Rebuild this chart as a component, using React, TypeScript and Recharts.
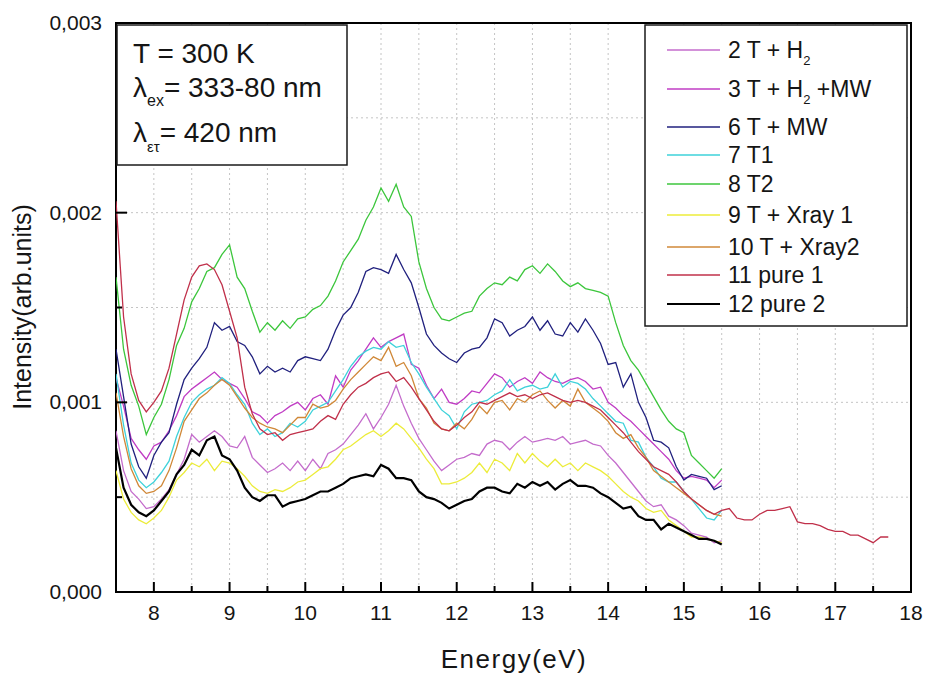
import React from 'react';
import { LineChart, Line, XAxis, YAxis, CartesianGrid, ReferenceArea } from 'recharts';

// Photon energy (eV)
const energy = [
  7.5, 7.6, 7.7, 7.8, 7.9, 8.0, 8.1, 8.2, 8.3, 8.4,
  8.5, 8.6, 8.7, 8.8, 8.9, 9.0, 9.1, 9.2, 9.3, 9.4,
  9.5, 9.6, 9.7, 9.8, 9.9, 10.0, 10.1, 10.2, 10.3, 10.4,
  10.5, 10.6, 10.7, 10.8, 10.9, 11.0, 11.1, 11.2, 11.3, 11.4,
  11.5, 11.6, 11.7, 11.8, 11.9, 12.0, 12.1, 12.2, 12.3, 12.4,
  12.5, 12.6, 12.7, 12.8, 12.9, 13.0, 13.1, 13.2, 13.3, 13.4,
  13.5, 13.6, 13.7, 13.8, 13.9, 14.0, 14.1, 14.2, 14.3, 14.4,
  14.5, 14.6, 14.7, 14.8, 14.9, 15.0, 15.1, 15.2, 15.3, 15.4,
  15.5, 15.6, 15.7, 15.8, 15.9, 16.0, 16.1, 16.2, 16.3, 16.4,
  16.5, 16.6, 16.7, 16.8, 16.9, 17.0, 17.1, 17.2, 17.3, 17.4,
  17.5, 17.6, 17.7,
];

// Intensities in units of 1e-4 arb.units
const t2H2 = [
  8.5, 6.4, 5.3, 4.9, 4.4, 4.5, 4.9, 5.4, 6.2, 7.0,
  8.3, 7.9, 8.2, 8.5, 8.2, 7.7, 7.6, 8.2, 7.1, 6.7,
  6.3, 6.5, 6.8, 6.4, 6.9, 6.4, 7.0, 6.5, 7.3, 7.5,
  7.8, 8.3, 8.8, 9.4, 8.6, 9.2, 9.9, 10.9, 9.8, 8.9,
  8.1, 7.5, 6.9, 6.4, 6.7, 7.0, 7.1, 7.3, 7.2, 7.8,
  8.0, 7.9, 7.5, 7.9, 8.2, 7.9, 8.0, 8.1, 8.0, 8.2,
  7.8, 7.9, 8.0, 7.8, 7.7, 7.2, 6.8, 6.3, 5.8, 5.3,
  4.8, 4.5, 4.6, 4.0, 3.8, 3.5, 3.1, 3.0, 2.9, 2.6,
  2.7,
];
const t3H2MW = [
  11.3, 9.8, 8.1, 7.5, 7.0, 7.7, 7.9, 8.5, 9.3, 10.3,
  10.7, 11.0, 11.3, 11.6, 11.2, 11.0, 10.8, 10.2, 9.5, 9.3,
  8.9, 9.3, 9.5, 9.8, 10.0, 9.6, 10.2, 10.4, 9.9, 11.4,
  10.8, 11.7, 12.2, 12.8, 13.4, 12.9, 13.2, 13.4, 13.6, 12.0,
  11.8, 10.9, 10.2, 10.7, 10.0, 9.9, 10.2, 10.6, 10.5, 11.0,
  11.5, 11.3, 10.8, 11.1, 11.3, 11.0, 11.6, 11.3, 11.1, 11.0,
  11.2, 11.3, 11.1, 10.7, 10.8, 10.0, 9.7, 9.3, 9.0, 8.6,
  8.2, 7.8, 7.4, 7.0, 6.4, 6.0, 6.1, 6.0, 5.9, 5.5,
  5.9,
];
const t6MW = [
  12.8, 10.3, 7.8, 6.6, 6.0, 7.2, 7.9, 8.4, 9.9, 11.2,
  11.8, 12.3, 12.9, 14.2, 13.8, 14.0, 13.2, 13.0, 12.4, 11.5,
  11.9, 11.6, 11.8, 11.6, 12.2, 12.4, 12.3, 12.2, 12.8, 13.8,
  14.6, 15.0, 15.8, 16.9, 17.1, 17.0, 16.8, 17.8, 17.0, 16.3,
  15.0, 13.6, 13.0, 12.6, 12.3, 12.1, 12.6, 12.8, 12.9, 13.4,
  14.4, 14.2, 13.5, 13.8, 14.0, 14.5, 13.8, 14.3, 13.6, 13.5,
  14.2, 13.7, 14.4, 13.8, 13.1, 12.0, 12.1, 10.8, 11.5, 10.0,
  9.2, 8.0, 7.9, 7.6, 6.6, 5.9, 6.2, 6.1, 6.0, 5.4,
  5.6,
];
const t7T1 = [
  11.5, 8.8, 6.8, 5.9, 5.5, 5.8, 6.3, 6.9, 8.2, 9.2,
  10.0, 10.4, 10.7, 10.9, 11.3, 11.0, 10.4, 9.9, 8.9, 8.3,
  8.6, 8.2, 8.4, 8.9, 8.7, 9.0, 9.6, 9.8, 10.0, 10.6,
  11.2, 11.9, 12.4, 12.7, 12.9, 12.8, 13.2, 12.9, 13.0, 12.1,
  11.5, 10.8, 10.2, 9.6, 9.3, 8.6, 9.5, 9.9, 10.0, 10.1,
  10.4, 10.6, 11.2, 10.6, 10.8, 10.9, 10.7, 10.8, 11.5, 10.8,
  11.1, 11.0, 10.7, 10.2, 9.8, 9.4, 9.0, 8.9, 8.0, 7.9,
  7.1, 6.6, 6.0, 5.8, 5.8, 5.3, 4.9, 4.4, 3.9, 3.8,
  4.3,
];
const t8T2 = [
  16.6, 12.8, 10.9, 9.8, 8.3, 9.2, 9.9, 11.2, 13.0, 13.9,
  15.3, 16.0, 16.9, 17.1, 17.8, 18.3, 16.6, 16.0, 14.8, 13.7,
  14.2, 13.8, 14.3, 13.9, 14.4, 14.5, 14.9, 15.1, 15.6, 16.4,
  17.4, 18.0, 18.6, 19.6, 20.3, 21.3, 20.6, 21.5, 20.3, 19.8,
  17.4, 16.0, 15.0, 14.4, 14.3, 14.5, 14.7, 14.8, 15.6, 16.0,
  16.3, 16.2, 16.6, 16.4, 17.0, 17.2, 16.8, 17.3, 16.9, 16.4,
  16.1, 16.3, 16.0, 15.9, 15.8, 15.6, 14.2, 13.0, 12.2, 11.7,
  11.0, 10.3, 9.6, 9.0, 8.6, 8.4, 7.2, 6.8, 6.4, 6.0,
  6.5,
];
const t9Xray1 = [
  6.4, 4.9, 4.2, 3.8, 3.6, 3.9, 4.3, 5.0, 5.9, 6.3,
  6.8, 6.6, 7.0, 6.4, 6.9, 6.8, 6.5, 6.1, 5.6, 5.3,
  5.2, 5.4, 5.3, 5.5, 5.8, 5.9, 6.2, 6.5, 6.6, 7.0,
  7.5, 7.7, 8.0, 8.3, 8.5, 8.2, 8.5, 8.9, 8.6, 8.1,
  7.6, 7.0, 6.5, 5.7, 5.7, 5.8, 6.0, 6.3, 6.8, 6.3,
  7.0, 6.8, 6.4, 7.3, 6.8, 7.3, 6.9, 6.6, 7.0, 6.6,
  6.8, 6.4, 6.8, 6.6, 6.4, 6.1, 5.7, 5.3, 5.0, 4.8,
  4.4, 4.2, 4.3, 3.8, 3.5, 3.2, 2.9, 2.9, 2.8, 2.7,
  2.6,
];
const t10Xray2 = [
  10.5, 8.2, 6.5, 5.6, 5.2, 5.3, 5.6, 6.4, 7.6, 9.0,
  9.6, 10.2, 10.5, 10.9, 11.2, 10.9, 10.3, 9.7, 9.2, 8.9,
  8.7, 8.6, 8.4, 8.8, 9.2, 9.2, 9.9, 9.7, 9.8, 10.1,
  10.7, 11.2, 11.6, 12.0, 12.4, 12.2, 12.9, 11.9, 12.1, 11.4,
  10.2, 9.7, 8.9, 8.6, 8.5, 8.9, 8.6, 9.1, 9.8, 9.4,
  10.0, 10.1, 9.6, 10.2, 10.0, 10.4, 10.6, 10.1, 9.7, 10.1,
  9.8, 10.7, 10.0, 9.7, 9.4, 9.0, 8.4, 8.1, 8.3, 7.6,
  7.1, 6.4, 6.1, 5.8, 5.5, 5.2, 4.9, 4.6, 4.3, 4.1,
  4.0,
];
const pure1 = [
  20.6, 14.5, 11.5, 10.1, 9.5, 10.0, 10.6, 11.8, 13.6, 15.4,
  16.6, 17.2, 17.3, 17.0, 16.2, 14.8, 13.4, 10.8, 9.4, 8.6,
  8.3, 8.4, 8.0, 8.3, 8.4, 8.5, 8.6, 9.0, 9.3, 9.1,
  9.9, 10.4, 10.8, 11.0, 11.3, 11.5, 11.6, 11.1, 11.3, 10.8,
  10.2, 9.6, 9.0, 8.6, 8.5, 8.8, 9.2, 9.5, 10.0, 9.9,
  10.1, 10.3, 10.5, 10.3, 10.4, 10.2, 10.4, 10.5, 10.3, 10.1,
  10.0, 10.1, 10.0, 9.8, 9.6, 9.2, 8.8, 8.4, 7.9, 7.4,
  7.0, 6.6, 6.4, 6.2, 5.8, 5.3, 4.9, 4.6, 4.3, 4.1,
  4.3, 4.4, 3.9, 3.8, 3.8, 4.1, 4.3, 4.3, 4.4, 4.5,
  3.7, 3.6, 3.6, 3.5, 3.3, 3.2, 3.2, 3.0, 3.0, 2.8,
  2.6, 2.9, 2.9,
];
const pure2 = [
  7.6, 5.5, 4.6, 4.2, 4.0, 4.3, 4.8, 5.3, 6.2, 6.7,
  7.5, 7.2, 8.0, 8.2, 7.2, 7.0, 6.4, 5.5, 5.0, 4.8,
  5.1, 5.1, 4.5, 4.7, 4.8, 4.9, 5.1, 5.3, 5.3, 5.5,
  5.7, 6.0, 6.1, 6.2, 6.1, 6.7, 6.5, 6.0, 6.0, 5.9,
  5.3, 5.0, 4.9, 4.7, 4.4, 4.6, 4.8, 4.9, 5.3, 5.5,
  5.5, 5.3, 5.2, 5.7, 5.5, 5.8, 5.6, 5.8, 5.4, 5.7,
  5.9, 5.6, 5.6, 5.5, 5.2, 5.0, 4.7, 4.4, 4.5, 4.0,
  3.8, 3.8, 3.3, 3.6, 3.4, 3.2, 3.0, 2.8, 2.8, 2.7,
  2.5,
];

const xTicks = [7.5, 8, 8.5, 9, 9.5, 10, 10.5, 11, 11.5, 12, 12.5, 13, 13.5, 14, 14.5, 15, 15.5, 16, 16.5, 17, 17.5, 18];
const yTicks = [0, 0.0005, 0.001, 0.0015, 0.002, 0.0025, 0.003];
const yMajor = [0, 0.001, 0.002, 0.003];

const series = [
  { key: 's2', name: '2 T + H2', color: '#c46ccc', values: t2H2, w: 1.3 },
  { key: 's3', name: '3 T + H2 +MW', color: '#c03cc4', values: t3H2MW, w: 1.3 },
  { key: 's6', name: '6 T + MW', color: '#20207e', values: t6MW, w: 1.3 },
  { key: 's7', name: '7 T1', color: '#3ed2da', values: t7T1, w: 1.3 },
  { key: 's8', name: '8 T2', color: '#3cc63c', values: t8T2, w: 1.3 },
  { key: 's9', name: '9 T + Xray 1', color: '#ecec3a', values: t9Xray1, w: 1.3 },
  { key: 's10', name: '10 T + Xray2', color: '#d08838', values: t10Xray2, w: 1.3 },
  { key: 's11', name: '11 pure 1', color: '#c0304a', values: pure1, w: 1.3 },
  { key: 's12', name: '12 pure 2', color: '#000000', values: pure2, w: 2.2 },
];

const rows = energy.map((e, i) => {
  const r: any = { E: e };
  series.forEach((s) => {
    r[s.key] = i < s.values.length ? s.values[i] / 10000 : null;
  });
  return r;
});

const FONT = '"Liberation Sans", Arial, Helvetica, sans-serif';
const INK = '#151515';

const XTick = (p: any) => {
  const v = p.payload.value;
  const major = Math.abs(v - Math.round(v)) < 1e-9;
  return (
    <g>
      <line x1={p.x} x2={p.x} y1={p.y} y2={p.y - (major ? 10 : 6)} stroke="#000" strokeWidth={2} />
      {major && (
        <text x={p.x} y={p.y + 28} textAnchor="middle" fontSize={21} fontFamily={FONT} fill={INK}>
          {v}
        </text>
      )}
    </g>
  );
};

const YTick = (p: any) => {
  const v = p.payload.value;
  const major = yMajor.some((m) => Math.abs(m - v) < 1e-12);
  return (
    <g>
      <line x1={p.x} x2={p.x + (major ? 11 : 6)} y1={p.y} y2={p.y} stroke="#000" strokeWidth={2} />
      {major && (
        <text x={p.x - 14} y={p.y + 7} textAnchor="end" fontSize={21} fontFamily={FONT} fill={INK}>
          {v.toFixed(3).replace('.', ',')}
        </text>
      )}
    </g>
  );
};

const renderName = (name: string) => {
  const idx = name.indexOf('H2');
  if (idx < 0) return name;
  const before = name.slice(0, idx + 1);
  const after = name.slice(idx + 2);
  return (
    <>
      {before}
      <tspan dy={7} fontSize={13}>2</tspan>
      {after && <tspan dy={-7}>{after}</tspan>}
    </>
  );
};

const legendBaselines = [33, 72, 110, 138, 167, 198, 230, 258, 287];

export default function App() {
  return (
    <div style={{ position: 'absolute', left: 0, top: 0, width: 925, height: 674, background: '#fff' }}>
      <LineChart
        width={925}
        height={674}
        data={rows}
        margin={{ top: 23, right: 14, bottom: 52, left: 56 }}
      >
        <CartesianGrid stroke="#c4c4c4" strokeDasharray="2 3" strokeWidth={1} />
        <XAxis
          dataKey="E"
          type="number"
          domain={[7.5, 18]}
          ticks={xTicks}
          interval={0}
          allowDataOverflow
          height={30}
          tickSize={0}
          tickMargin={0}
          axisLine={false}
          tickLine={false}
          tick={XTick}
        />
        <YAxis
          type="number"
          domain={[0, 0.003]}
          ticks={yTicks}
          interval={0}
          allowDataOverflow
          width={60}
          tickSize={0}
          tickMargin={0}
          axisLine={false}
          tickLine={false}
          tick={YTick}
        />
        {series.map((s) => (
          <Line
            key={s.key}
            dataKey={s.key}
            name={s.name}
            type="linear"
            stroke={s.color}
            strokeWidth={s.w}
            dot={false}
            activeDot={false}
            isAnimationActive={false}
            connectNulls={false}
          />
        ))}
        <ReferenceArea x1={7.5} x2={18} y1={0} y2={0.003} fill="none" stroke="#000" strokeWidth={2} />
      </LineChart>

      <svg
        width={925}
        height={674}
        style={{ position: 'absolute', left: 0, top: 0, pointerEvents: 'none' }}
        fontFamily={FONT}
      >
        {/* annotation box */}
        <g transform="translate(117,25)">
          <rect x={0} y={0} width={230} height={140} fill="#fff" stroke="#1a1a1a" strokeWidth={1.5} />
          <text x={16} y={38} fontSize={28} fill={INK}>T = 300 K</text>
          <text x={16} y={72} fontSize={28} fill={INK}>
            λ<tspan dy={9} fontSize={16}>ex</tspan>
            <tspan dy={-9}>= 333-80 nm</tspan>
          </text>
          <text x={16} y={117} fontSize={28} fill={INK}>
            λ<tspan dy={10} fontSize={15}>ετ</tspan>
            <tspan dy={-10}>= 420 nm</tspan>
          </text>
        </g>

        {/* legend */}
        <g transform="translate(645,25)">
          <rect x={0} y={0} width={262} height={301} fill="#fff" stroke="#1a1a1a" strokeWidth={1.5} />
          {series.map((s, i) => (
            <g key={s.key}>
              <line
                x1={22}
                x2={75}
                y1={legendBaselines[i] - 8}
                y2={legendBaselines[i] - 8}
                stroke={s.color}
                strokeWidth={s.w}
              />
              <text x={83} y={legendBaselines[i]} fontSize={23} fill={INK}>
                {renderName(s.name)}
              </text>
            </g>
          ))}
        </g>

        {/* axis titles */}
        <text x={514} y={668} textAnchor="middle" fontSize={26} letterSpacing={1.5} fill={INK}>
          Energy(eV)
        </text>
        <text transform="translate(31,307) rotate(-90)" textAnchor="middle" fontSize={25} fill={INK}>
          Intensity(arb.units)
        </text>
      </svg>
    </div>
  );
}
